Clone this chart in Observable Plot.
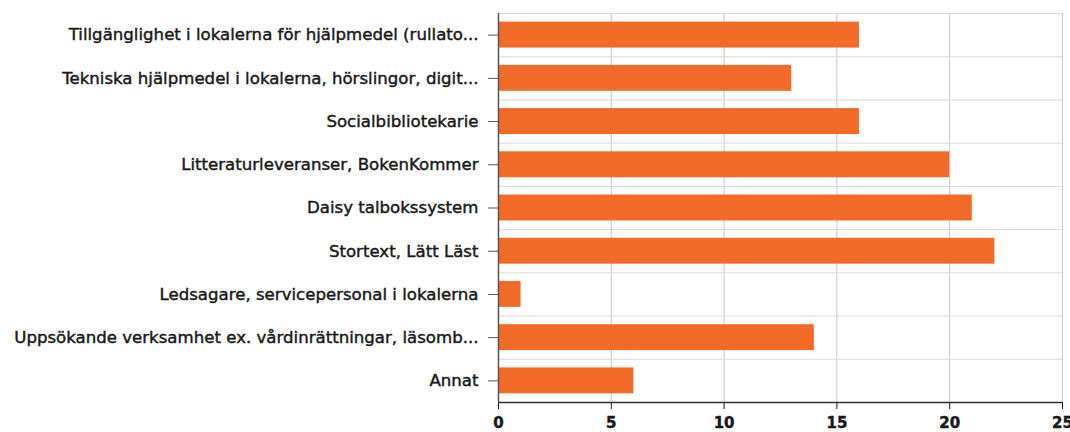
<!DOCTYPE html>
<html>
<head>
<meta charset="utf-8">
<script src="https://cdn.jsdelivr.net/npm/d3@7"></script>
<script src="https://cdn.jsdelivr.net/npm/@observablehq/plot@0.6"></script>
<style>
  html, body { margin: 0; padding: 0; background: #fff; }
  #chart svg { display: block; }
  #chart svg text { stroke: #1a1a1a; stroke-width: 0.45px; }
</style>
</head>
<body>
<div id="chart"></div>
<script>
const categories = [
  "Tillgänglighet i lokalerna för hjälpmedel (rullato...",
  "Tekniska hjälpmedel i lokalerna, hörslingor, digit...",
  "Socialbibliotekarie",
  "Litteraturleveranser, BokenKommer",
  "Daisy talbokssystem",
  "Stortext, Lätt Läst",
  "Ledsagare, servicepersonal i lokalerna",
  "Uppsökande verksamhet ex. vårdinrättningar, läsomb...",
  "Annat"
];
const values = [16, 13, 16, 20, 21, 22, 1, 14, 6];
const xTicks = [0, 5, 10, 15, 20, 25];

const data = categories.map((c, i) => ({i, c, v: values[i]}));
const idx = categories.map((c, i) => i);
const boundaries = [...idx.map(i => i - 0.5), categories.length - 0.5];

const chart = Plot.plot({
  width: 1070,
  height: 432,
  marginLeft: 498,
  marginRight: 8,
  marginTop: 13,
  marginBottom: 30,
  style: {fontFamily: "DejaVu Sans", fontSize: "16.6px", color: "#1a1a1a", background: "#fff"},
  x: {domain: [0, 25]},
  y: {domain: [-0.5, categories.length - 0.5], reverse: true},
  marks: [
    Plot.ruleX(xTicks, {stroke: "#c8c8c8", strokeWidth: 1}),
    Plot.ruleY(boundaries, {stroke: "#d8d8d8", strokeWidth: 1}),
    Plot.rectX(data, {x1: 0, x2: "v", y1: d => d.i - 0.3, y2: d => d.i + 0.3, fill: "#f26a28"}),
    Plot.axisY({ticks: idx, tickFormat: i => categories[i], tickSize: 10, tickPadding: 10, stroke: "#555", fill: "#1a1a1a", label: null}),
    Plot.axisX({ticks: xTicks, tickSize: 7, tickPadding: 8, fill: "#1a1a1a", label: null, fontSize: "15px", fontWeight: "bold"}),
    Plot.ruleY([categories.length - 0.5], {stroke: "#333", strokeWidth: 1.5}),
    Plot.ruleX([0], {stroke: "#555", strokeWidth: 1.5})
  ]
});
document.getElementById("chart").appendChild(chart);
</script>
</body>
</html>
